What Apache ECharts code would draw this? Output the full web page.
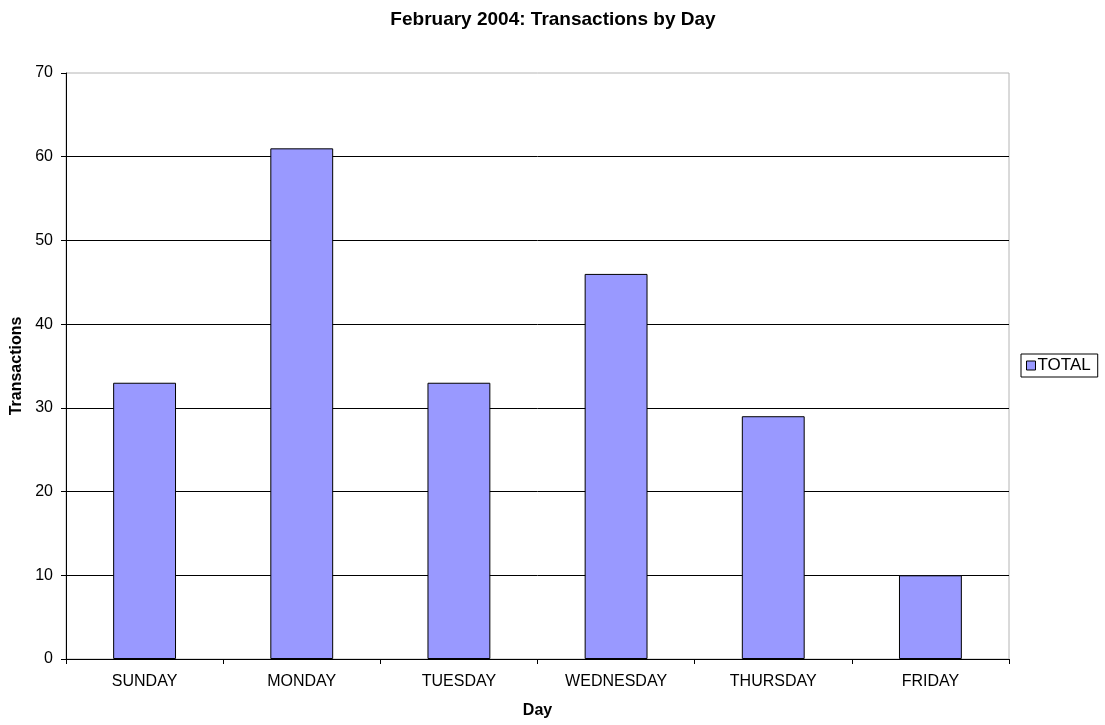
<!DOCTYPE html>
<html><head><meta charset="utf-8">
<script src="https://cdn.jsdelivr.net/npm/echarts@6/dist/echarts.min.js"></script>
<style>html,body{margin:0;padding:0;background:#fff}#c{width:1105px;height:725px}</style>
</head><body><div id="c"></div>
<script>
const categories = ['SUNDAY','MONDAY','TUESDAY','WEDNESDAY','THURSDAY','FRIDAY'];
const totals = [33, 61, 33, 46, 29, 10];
const yTicks = [0,10,20,30,40,50,60,70];
const FONT = 'Liberation Sans, Arial, sans-serif';
const chart = echarts.init(document.getElementById('c'));
chart.setOption({
  animation:false,
  title:{text:'February 2004: Transactions by Day',left:548,top:5,textAlign:'center',
    textStyle:{fontFamily:FONT,fontSize:19,fontWeight:'bold',color:'#000'}},
  grid:{left:66,right:96,top:73,bottom:66,show:true,borderColor:'#b4b4b4',borderWidth:1},
  legend:{data:['TOTAL'],left:1021,top:354,orient:'vertical',borderColor:'#000',borderWidth:1,
    padding:[3,7,3,5],itemWidth:9,itemHeight:9,itemGap:2,icon:'rect',
    textStyle:{fontFamily:FONT,fontSize:17,color:'#000',padding:[0,0,0,-3]},
    itemStyle:{borderColor:'#000',borderWidth:1}},
  xAxis:{type:'category',data:categories,name:'Day',nameLocation:'middle',nameGap:44,
    nameTextStyle:{fontFamily:FONT,fontSize:16,fontWeight:'bold',color:'#000'},
    axisLine:{lineStyle:{color:'#000',width:1}},
    axisTick:{show:true,alignWithLabel:false,length:5,lineStyle:{color:'#000'}},
    axisLabel:{fontFamily:FONT,fontSize:16,color:'#000',margin:15}},
  yAxis:{type:'value',min:0,max:70,interval:10,name:'Transactions',nameLocation:'middle',nameGap:40,
    nameTextStyle:{fontFamily:FONT,fontSize:16,fontWeight:'bold',color:'#000'},
    axisLine:{show:true,lineStyle:{color:'#000',width:1}},
    axisTick:{show:true,length:5,lineStyle:{color:'#000'}},
    axisLabel:{fontFamily:FONT,fontSize:16,color:'#000',margin:13,
      formatter:v=>yTicks.includes(v)?String(v):''},
    splitLine:{show:true,showMaxLine:false,lineStyle:{color:'#000',width:1}}},
  series:[{name:'TOTAL',type:'bar',data:totals,barWidth:'40%',
    itemStyle:{color:'#9999ff',borderColor:'#000',borderWidth:1}}]
});
</script></body></html>
